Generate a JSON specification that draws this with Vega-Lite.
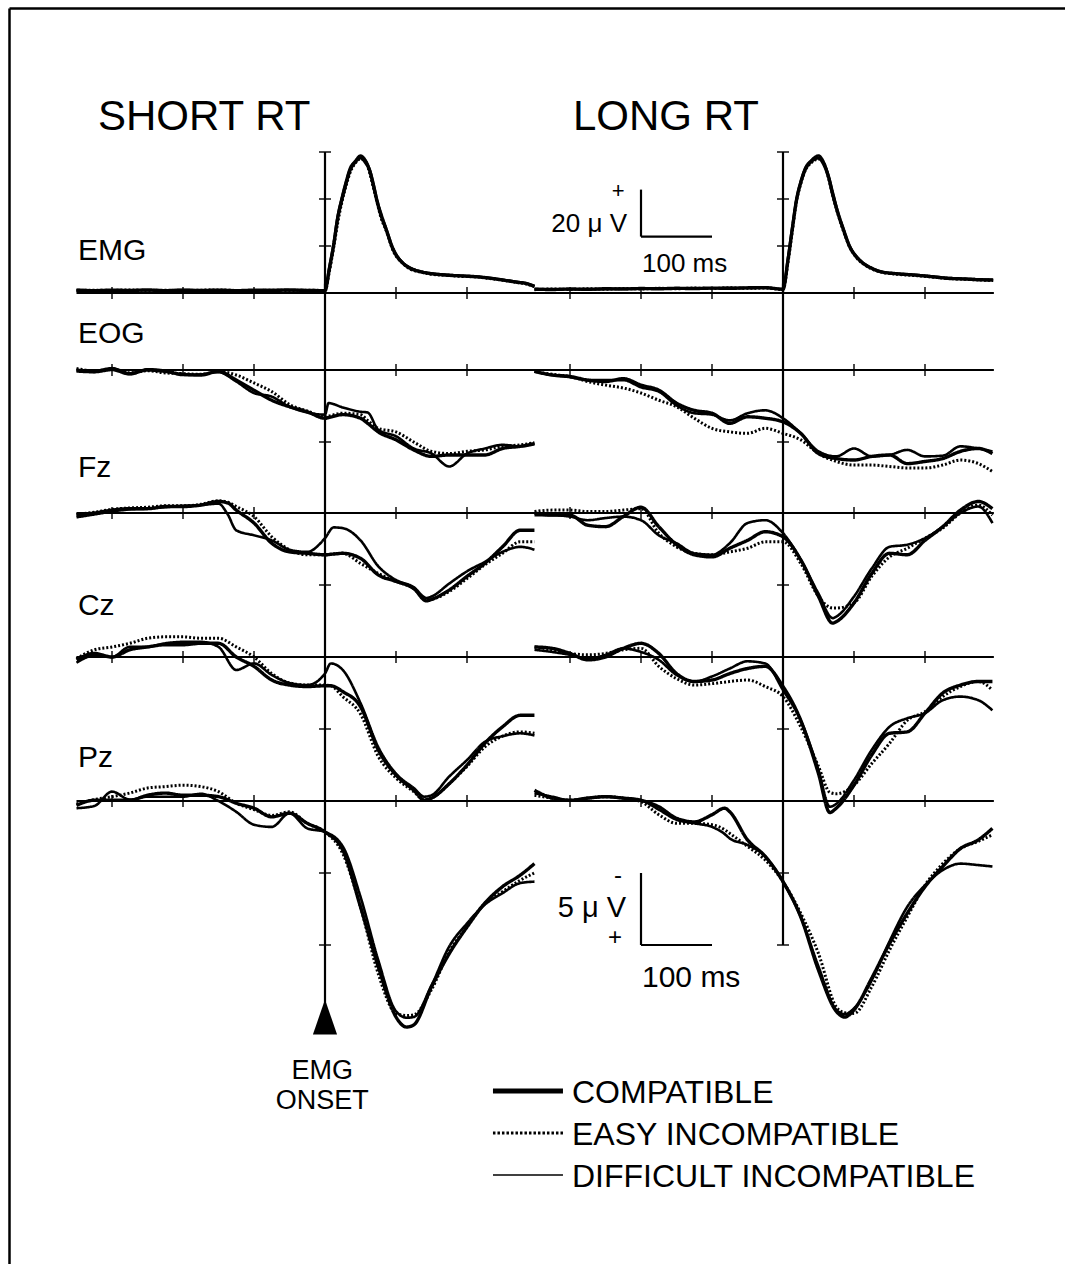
{
  "$schema": "https://vega.github.io/schema/vega-lite/v6.json",
  "autosize": {"type": "fit", "contains": "padding"},
  "width": 1065,
  "height": 1264,
  "padding": {"left": 9, "top": 8, "right": 0, "bottom": 0},
  "background": "white",
  "config": {
    "view": {"stroke": null},
    "text": {"font": "Liberation Sans", "color": "black"},
    "tick": {"color": "black"},
    "rule": {"color": "black"}
  },
  "datasets": {
    "ticks": [{"t": -300}, {"t": -200}, {"t": -100}, {"t": 100}, {"t": 200}],
    "S_EMG": [
      {"t": -350, "C": 1.2, "E": 1.0, "D": 1.3}, {"t": -325, "C": 1.0, "E": 1.2, "D": 1.1},
      {"t": -300, "C": 1.2, "E": 1.1, "D": 1.0}, {"t": -275, "C": 1.1, "E": 1.3, "D": 1.2},
      {"t": -250, "C": 1.3, "E": 1.1, "D": 1.2}, {"t": -225, "C": 1.0, "E": 1.2, "D": 1.1},
      {"t": -200, "C": 1.2, "E": 1.0, "D": 1.3}, {"t": -175, "C": 1.1, "E": 1.2, "D": 1.0},
      {"t": -150, "C": 1.2, "E": 1.3, "D": 1.1}, {"t": -125, "C": 1.0, "E": 1.1, "D": 1.2},
      {"t": -100, "C": 1.2, "E": 1.0, "D": 1.1}, {"t": -75, "C": 1.1, "E": 1.2, "D": 1.3},
      {"t": -50, "C": 1.3, "E": 1.1, "D": 1.2}, {"t": -25, "C": 1.1, "E": 1.2, "D": 1.0},
      {"t": 0, "C": 1.0, "E": 1.1, "D": 1.2}, {"t": 6, "C": 10, "E": 9, "D": 11},
      {"t": 12, "C": 20, "E": 19, "D": 21}, {"t": 18, "C": 32, "E": 30, "D": 33},
      {"t": 24, "C": 40, "E": 39, "D": 41}, {"t": 30, "C": 47, "E": 46, "D": 48},
      {"t": 35, "C": 52, "E": 51, "D": 53}, {"t": 42, "C": 55.5, "E": 55, "D": 56},
      {"t": 50, "C": 57.5, "E": 57, "D": 58.5}, {"t": 56, "C": 56, "E": 56.5, "D": 57},
      {"t": 63, "C": 52, "E": 51, "D": 52.5}, {"t": 68, "C": 46, "E": 45, "D": 47},
      {"t": 73, "C": 39.5, "E": 39, "D": 40}, {"t": 80, "C": 32, "E": 31, "D": 33},
      {"t": 85, "C": 28, "E": 27.5, "D": 28.5}, {"t": 96, "C": 18.5, "E": 18, "D": 19},
      {"t": 110, "C": 12.6, "E": 12.5, "D": 12.8}, {"t": 120, "C": 10.5, "E": 10.2, "D": 10.8},
      {"t": 134, "C": 9.1, "E": 9.0, "D": 9.3}, {"t": 150, "C": 8.2, "E": 8.0, "D": 8.4},
      {"t": 167, "C": 7.7, "E": 7.6, "D": 7.9}, {"t": 190, "C": 7.3, "E": 7.1, "D": 7.4},
      {"t": 214, "C": 6.9, "E": 6.8, "D": 7.0}, {"t": 235, "C": 6.2, "E": 6.0, "D": 6.3},
      {"t": 251, "C": 5.5, "E": 5.4, "D": 5.6}, {"t": 270, "C": 4.6, "E": 4.5, "D": 4.8},
      {"t": 284, "C": 4.0, "E": 3.8, "D": 4.1}, {"t": 295, "C": 2.8, "E": 2.7, "D": 3.0}
    ],
    "L_EMG": [
      {"t": -350, "C": 1.6, "E": 1.4, "D": 1.7}, {"t": -325, "C": 1.5, "E": 1.7, "D": 1.6},
      {"t": -300, "C": 1.7, "E": 1.5, "D": 1.6}, {"t": -275, "C": 1.6, "E": 1.8, "D": 1.5},
      {"t": -250, "C": 1.8, "E": 1.6, "D": 1.7}, {"t": -225, "C": 1.7, "E": 1.9, "D": 1.8},
      {"t": -200, "C": 1.9, "E": 1.7, "D": 1.8}, {"t": -175, "C": 1.8, "E": 2.0, "D": 1.9},
      {"t": -150, "C": 2.0, "E": 1.8, "D": 1.9}, {"t": -125, "C": 1.9, "E": 2.1, "D": 2.0},
      {"t": -100, "C": 2.1, "E": 1.9, "D": 2.0}, {"t": -75, "C": 2.0, "E": 2.2, "D": 2.1},
      {"t": -50, "C": 2.2, "E": 2.0, "D": 2.1}, {"t": -25, "C": 2.3, "E": 2.1, "D": 2.2},
      {"t": 0, "C": 1.6, "E": 1.5, "D": 1.7}, {"t": 7, "C": 14, "E": 13, "D": 15},
      {"t": 13, "C": 27, "E": 26, "D": 28}, {"t": 19, "C": 39.5, "E": 39, "D": 40},
      {"t": 25, "C": 47, "E": 46.5, "D": 47.5}, {"t": 31, "C": 52.3, "E": 52, "D": 53},
      {"t": 40, "C": 56, "E": 55.5, "D": 56.5}, {"t": 50, "C": 57.5, "E": 57, "D": 58.5},
      {"t": 57, "C": 55, "E": 55.5, "D": 56}, {"t": 64, "C": 49.5, "E": 49, "D": 50},
      {"t": 70, "C": 42, "E": 41.5, "D": 43}, {"t": 76, "C": 35.3, "E": 35, "D": 36},
      {"t": 85, "C": 27, "E": 26.5, "D": 27.5}, {"t": 94, "C": 19.7, "E": 19.5, "D": 20},
      {"t": 103, "C": 15.5, "E": 15.2, "D": 15.8}, {"t": 113, "C": 12.6, "E": 12.4, "D": 12.8},
      {"t": 125, "C": 10.5, "E": 10.3, "D": 10.7}, {"t": 137, "C": 9.1, "E": 9.0, "D": 9.2},
      {"t": 160, "C": 8.2, "E": 8.0, "D": 8.3}, {"t": 183, "C": 7.7, "E": 7.5, "D": 7.8},
      {"t": 207, "C": 7.0, "E": 6.9, "D": 7.2}, {"t": 230, "C": 6.3, "E": 6.2, "D": 6.5},
      {"t": 260, "C": 5.9, "E": 5.8, "D": 6.0}, {"t": 280, "C": 5.6, "E": 5.5, "D": 5.8},
      {"t": 296, "C": 5.5, "E": 5.3, "D": 5.6}
    ],
    "S_EOG": [
      {"t": -350, "C": 0, "E": -0.1, "D": 0.1}, {"t": -325, "C": 0.1, "E": 0.05, "D": 0.15},
      {"t": -300, "C": -0.1, "E": -0.05, "D": 0}, {"t": -275, "C": 0.25, "E": 0.2, "D": 0.3},
      {"t": -250, "C": 0, "E": 0.05, "D": -0.05}, {"t": -225, "C": 0.1, "E": 0.2, "D": 0.05},
      {"t": -200, "C": 0.3, "E": 0.25, "D": 0.35}, {"t": -175, "C": 0.35, "E": 0.3, "D": 0.3},
      {"t": -150, "C": 0.1, "E": 0.1, "D": 0.15}, {"t": -125, "C": 0.7, "E": 0.35, "D": 0.8},
      {"t": -100, "C": 1.4, "E": 0.9, "D": 1.6}, {"t": -75, "C": 2.1, "E": 1.5, "D": 1.85},
      {"t": -50, "C": 2.55, "E": 2.4, "D": 2.55}, {"t": -25, "C": 2.9, "E": 2.85, "D": 2.95},
      {"t": 0, "C": 3.35, "E": 3.25, "D": 3.1}, {"t": 5, "C": 3.3, "E": 3.2, "D": 2.3},
      {"t": 25, "C": 3.1, "E": 3.0, "D": 2.6}, {"t": 50, "C": 3.35, "E": 3.1, "D": 2.9},
      {"t": 60, "C": 3.7, "E": 3.5, "D": 2.95}, {"t": 75, "C": 4.3, "E": 4.05, "D": 4.15},
      {"t": 100, "C": 4.85, "E": 4.3, "D": 4.6}, {"t": 125, "C": 5.55, "E": 5.0, "D": 5.45},
      {"t": 150, "C": 6.0, "E": 5.65, "D": 5.8}, {"t": 175, "C": 5.9, "E": 5.8, "D": 6.7},
      {"t": 200, "C": 5.9, "E": 5.65, "D": 5.8}, {"t": 225, "C": 5.9, "E": 5.55, "D": 5.45},
      {"t": 250, "C": 5.45, "E": 5.3, "D": 5.2}, {"t": 275, "C": 5.3, "E": 5.2, "D": 5.3},
      {"t": 295, "C": 5.1, "E": 5.05, "D": 5.15}
    ],
    "L_EOG": [
      {"t": -350, "C": 0.1, "E": 0.1, "D": 0.1}, {"t": -325, "C": 0.35, "E": 0.3, "D": 0.35},
      {"t": -300, "C": 0.45, "E": 0.45, "D": 0.5}, {"t": -275, "C": 0.7, "E": 0.8, "D": 0.7},
      {"t": -250, "C": 0.8, "E": 1.05, "D": 0.7}, {"t": -225, "C": 0.6, "E": 1.25, "D": 0.7},
      {"t": -200, "C": 1.05, "E": 1.6, "D": 1.2}, {"t": -175, "C": 1.4, "E": 2.1, "D": 1.5},
      {"t": -150, "C": 2.3, "E": 2.55, "D": 2.45}, {"t": -125, "C": 2.8, "E": 3.35, "D": 3.0},
      {"t": -100, "C": 3.0, "E": 4.05, "D": 3.1}, {"t": -75, "C": 3.7, "E": 4.3, "D": 3.5},
      {"t": -50, "C": 3.25, "E": 4.4, "D": 3.0}, {"t": -25, "C": 3.35, "E": 4.05, "D": 2.8},
      {"t": 0, "C": 3.6, "E": 4.4, "D": 3.35}, {"t": 25, "C": 4.4, "E": 4.85, "D": 4.4},
      {"t": 50, "C": 5.8, "E": 5.8, "D": 5.65}, {"t": 75, "C": 6.15, "E": 6.35, "D": 6.0},
      {"t": 100, "C": 6.25, "E": 6.6, "D": 5.45}, {"t": 125, "C": 6.0, "E": 6.6, "D": 6.0},
      {"t": 150, "C": 5.9, "E": 6.7, "D": 5.9}, {"t": 175, "C": 6.5, "E": 6.8, "D": 5.55},
      {"t": 200, "C": 6.35, "E": 6.8, "D": 6.0}, {"t": 225, "C": 6.15, "E": 6.6, "D": 5.95},
      {"t": 250, "C": 5.65, "E": 6.25, "D": 5.3}, {"t": 275, "C": 5.45, "E": 6.5, "D": 5.45},
      {"t": 295, "C": 5.8, "E": 7.05, "D": 5.65}
    ],
    "S_Fz": [
      {"t": -350, "C": 0.15, "E": 0.1, "D": 0.3}, {"t": -325, "C": 0, "E": -0.05, "D": 0.1},
      {"t": -300, "C": -0.2, "E": -0.25, "D": -0.1}, {"t": -275, "C": -0.3, "E": -0.35, "D": -0.25},
      {"t": -250, "C": -0.3, "E": -0.4, "D": -0.3}, {"t": -225, "C": -0.45, "E": -0.5, "D": -0.4},
      {"t": -200, "C": -0.45, "E": -0.5, "D": -0.5}, {"t": -175, "C": -0.55, "E": -0.6, "D": -0.55},
      {"t": -150, "C": -0.8, "E": -0.85, "D": -0.65}, {"t": -137, "C": -0.7, "E": -0.75, "D": 0.1},
      {"t": -125, "C": -0.2, "E": -0.45, "D": 1.2}, {"t": -100, "C": 0.7, "E": 0.25, "D": 1.55},
      {"t": -75, "C": 2.1, "E": 1.65, "D": 1.9}, {"t": -50, "C": 2.7, "E": 2.55, "D": 2.55},
      {"t": -25, "C": 2.8, "E": 2.9, "D": 2.7}, {"t": 0, "C": 2.9, "E": 2.9, "D": 1.75},
      {"t": 12, "C": 2.85, "E": 2.85, "D": 1.0}, {"t": 25, "C": 2.8, "E": 2.8, "D": 1.05},
      {"t": 50, "C": 3.15, "E": 3.5, "D": 1.9}, {"t": 75, "C": 4.3, "E": 4.2, "D": 3.7},
      {"t": 100, "C": 4.75, "E": 4.75, "D": 4.65}, {"t": 125, "C": 5.25, "E": 5.25, "D": 5.15},
      {"t": 143, "C": 6.1, "E": 6.05, "D": 5.9}, {"t": 150, "C": 6.0, "E": 6.0, "D": 5.8},
      {"t": 175, "C": 5.35, "E": 5.45, "D": 4.9}, {"t": 200, "C": 4.4, "E": 4.55, "D": 4.05},
      {"t": 225, "C": 3.5, "E": 3.6, "D": 3.4}, {"t": 250, "C": 2.35, "E": 2.8, "D": 2.7},
      {"t": 275, "C": 1.2, "E": 2.0, "D": 2.35}, {"t": 295, "C": 1.2, "E": 2.0, "D": 2.55}
    ],
    "L_Fz": [
      {"t": -350, "C": 0, "E": -0.1, "D": 0.15}, {"t": -325, "C": 0.15, "E": -0.2, "D": 0.15},
      {"t": -300, "C": 0.15, "E": -0.2, "D": 0.25}, {"t": -275, "C": 0.85, "E": -0.1, "D": 0.5},
      {"t": -250, "C": 0.95, "E": -0.1, "D": 0.35}, {"t": -225, "C": 0.25, "E": -0.2, "D": 0.25},
      {"t": -200, "C": -0.4, "E": -0.3, "D": 0.5}, {"t": -175, "C": 0.95, "E": 1.4, "D": 1.55},
      {"t": -150, "C": 2.2, "E": 2.35, "D": 2.1}, {"t": -125, "C": 2.9, "E": 2.8, "D": 2.8},
      {"t": -100, "C": 3.05, "E": 2.9, "D": 2.9}, {"t": -75, "C": 2.45, "E": 2.7, "D": 2.1},
      {"t": -50, "C": 1.9, "E": 2.45, "D": 0.7}, {"t": -25, "C": 1.3, "E": 2.0, "D": 0.5},
      {"t": 0, "C": 1.65, "E": 2.0, "D": 1.4}, {"t": 25, "C": 3.25, "E": 3.5, "D": 3.25},
      {"t": 50, "C": 5.8, "E": 5.8, "D": 5.6}, {"t": 70, "C": 7.65, "E": 6.6, "D": 7.3},
      {"t": 75, "C": 7.55, "E": 6.6, "D": 7.2}, {"t": 100, "C": 6.25, "E": 6.25, "D": 5.8},
      {"t": 125, "C": 4.2, "E": 4.4, "D": 3.85}, {"t": 150, "C": 2.8, "E": 3.05, "D": 2.35},
      {"t": 175, "C": 2.9, "E": 2.45, "D": 2.2}, {"t": 200, "C": 1.9, "E": 1.75, "D": 1.75},
      {"t": 225, "C": 0.95, "E": 1.05, "D": 0.95}, {"t": 250, "C": -0.2, "E": 0, "D": 0},
      {"t": 275, "C": -0.8, "E": -0.55, "D": -0.45}, {"t": 295, "C": -0.3, "E": 0.15, "D": 0.7}
    ],
    "S_Cz": [
      {"t": -350, "C": 0.2, "E": 0.1, "D": 0.4}, {"t": -325, "C": -0.25, "E": -0.5, "D": -0.1},
      {"t": -300, "C": 0, "E": -0.7, "D": 0}, {"t": -275, "C": -0.5, "E": -0.95, "D": -0.7},
      {"t": -250, "C": -0.7, "E": -1.3, "D": -0.7}, {"t": -225, "C": -0.85, "E": -1.4, "D": -0.95},
      {"t": -200, "C": -0.85, "E": -1.4, "D": -1.05}, {"t": -175, "C": -0.95, "E": -1.3, "D": -1.05},
      {"t": -150, "C": -0.95, "E": -1.3, "D": -0.7}, {"t": -125, "C": 0, "E": -0.7, "D": 0.9},
      {"t": -100, "C": 0.65, "E": 0, "D": 0.45}, {"t": -75, "C": 1.6, "E": 1.15, "D": 1.25},
      {"t": -50, "C": 1.95, "E": 1.8, "D": 1.8}, {"t": -25, "C": 2.05, "E": 1.95, "D": 1.95},
      {"t": 0, "C": 2.0, "E": 1.95, "D": 1.15}, {"t": 8, "C": 2.0, "E": 2.0, "D": 0.45},
      {"t": 25, "C": 2.4, "E": 2.75, "D": 0.9}, {"t": 50, "C": 3.45, "E": 3.95, "D": 3.2},
      {"t": 75, "C": 6.45, "E": 6.9, "D": 6.25}, {"t": 100, "C": 8.2, "E": 8.4, "D": 8.1},
      {"t": 125, "C": 9.25, "E": 9.35, "D": 9.1}, {"t": 140, "C": 9.95, "E": 9.9, "D": 9.7},
      {"t": 150, "C": 9.8, "E": 9.8, "D": 9.6}, {"t": 175, "C": 8.8, "E": 8.8, "D": 8.3},
      {"t": 200, "C": 7.5, "E": 7.6, "D": 7.15}, {"t": 225, "C": 6.0, "E": 6.25, "D": 5.9},
      {"t": 250, "C": 4.85, "E": 5.5, "D": 5.5}, {"t": 275, "C": 4.05, "E": 5.2, "D": 5.3},
      {"t": 295, "C": 4.05, "E": 5.3, "D": 5.45}
    ],
    "L_Cz": [
      {"t": -350, "C": -0.7, "E": -0.7, "D": -0.5}, {"t": -325, "C": -0.6, "E": -0.5, "D": -0.35},
      {"t": -300, "C": -0.25, "E": -0.25, "D": -0.15}, {"t": -275, "C": 0.2, "E": -0.15, "D": 0.1},
      {"t": -250, "C": 0, "E": -0.25, "D": -0.15}, {"t": -225, "C": -0.6, "E": -0.5, "D": -0.6},
      {"t": -200, "C": -0.95, "E": -0.6, "D": -0.35}, {"t": -175, "C": -0.25, "E": 0.65, "D": 0.2},
      {"t": -150, "C": 1.15, "E": 1.5, "D": 1.25}, {"t": -125, "C": 1.7, "E": 1.95, "D": 1.7},
      {"t": -100, "C": 1.6, "E": 1.85, "D": 1.35}, {"t": -75, "C": 1.15, "E": 1.7, "D": 0.8},
      {"t": -50, "C": 0.8, "E": 1.6, "D": 0.3}, {"t": -25, "C": 0.65, "E": 2.05, "D": 0.45},
      {"t": 0, "C": 2.05, "E": 2.75, "D": 2.3}, {"t": 25, "C": 4.4, "E": 4.85, "D": 4.4},
      {"t": 50, "C": 8.1, "E": 7.6, "D": 7.85}, {"t": 66, "C": 10.8, "E": 9.4, "D": 10.4},
      {"t": 75, "C": 10.5, "E": 9.5, "D": 10.2}, {"t": 100, "C": 8.9, "E": 8.9, "D": 8.55},
      {"t": 125, "C": 6.8, "E": 7.4, "D": 6.45}, {"t": 150, "C": 5.3, "E": 6.0, "D": 4.85},
      {"t": 175, "C": 5.2, "E": 4.4, "D": 4.25}, {"t": 200, "C": 3.9, "E": 3.8, "D": 3.9},
      {"t": 225, "C": 2.5, "E": 2.75, "D": 3.0}, {"t": 250, "C": 1.95, "E": 2.05, "D": 2.75},
      {"t": 275, "C": 1.7, "E": 1.7, "D": 3.0}, {"t": 295, "C": 1.7, "E": 2.3, "D": 3.7}
    ],
    "S_Pz": [
      {"t": -350, "C": 0.3, "E": 0.2, "D": 0.5}, {"t": -325, "C": -0.05, "E": -0.1, "D": 0.35},
      {"t": -300, "C": -0.05, "E": -0.3, "D": -0.65}, {"t": -275, "C": -0.05, "E": -0.55, "D": -0.1},
      {"t": -250, "C": -0.4, "E": -0.9, "D": -0.3}, {"t": -225, "C": -0.55, "E": -1.0, "D": -0.3},
      {"t": -200, "C": -0.4, "E": -1.1, "D": -0.3}, {"t": -175, "C": -0.4, "E": -1.0, "D": -0.5},
      {"t": -150, "C": -0.3, "E": -0.65, "D": 0}, {"t": -125, "C": 0.15, "E": 0.15, "D": 0.75},
      {"t": -100, "C": 0.5, "E": 0.6, "D": 1.65}, {"t": -75, "C": 1.1, "E": 1.0, "D": 1.8},
      {"t": -50, "C": 0.85, "E": 0.75, "D": 0.85}, {"t": -25, "C": 1.55, "E": 1.55, "D": 1.9},
      {"t": 0, "C": 2.15, "E": 2.15, "D": 2.15}, {"t": 25, "C": 3.4, "E": 3.65, "D": 3.15},
      {"t": 50, "C": 7.35, "E": 7.35, "D": 6.65}, {"t": 75, "C": 11.5, "E": 12.0, "D": 11.05},
      {"t": 100, "C": 15.0, "E": 14.75, "D": 14.6}, {"t": 115, "C": 15.7, "E": 14.9, "D": 15.05},
      {"t": 125, "C": 15.55, "E": 14.85, "D": 15.0}, {"t": 150, "C": 12.9, "E": 13.1, "D": 12.8},
      {"t": 175, "C": 10.6, "E": 10.45, "D": 10.1}, {"t": 200, "C": 8.75, "E": 8.75, "D": 8.5},
      {"t": 225, "C": 7.1, "E": 7.1, "D": 7.2}, {"t": 250, "C": 5.95, "E": 6.3, "D": 6.4},
      {"t": 275, "C": 5.15, "E": 5.5, "D": 5.7}, {"t": 295, "C": 4.35, "E": 5.0, "D": 5.6}
    ],
    "L_Pz": [
      {"t": -350, "C": -0.75, "E": -0.4, "D": -0.55}, {"t": -325, "C": -0.2, "E": -0.2, "D": -0.3},
      {"t": -300, "C": -0.05, "E": -0.05, "D": -0.05}, {"t": -275, "C": -0.2, "E": -0.2, "D": -0.2},
      {"t": -250, "C": -0.3, "E": -0.3, "D": -0.3}, {"t": -225, "C": -0.2, "E": -0.2, "D": -0.2},
      {"t": -200, "C": -0.05, "E": 0.05, "D": -0.05}, {"t": -175, "C": 0.4, "E": 0.95, "D": 0.6},
      {"t": -150, "C": 1.2, "E": 1.55, "D": 1.3}, {"t": -125, "C": 1.45, "E": 1.55, "D": 1.55},
      {"t": -100, "C": 0.95, "E": 1.65, "D": 1.8}, {"t": -82, "C": 0.5, "E": 2.0, "D": 2.3},
      {"t": -75, "C": 0.75, "E": 2.25, "D": 2.6}, {"t": -50, "C": 2.7, "E": 3.15, "D": 3.05},
      {"t": -25, "C": 3.85, "E": 4.1, "D": 3.85}, {"t": 0, "C": 5.6, "E": 5.6, "D": 5.6},
      {"t": 25, "C": 8.05, "E": 7.8, "D": 8.05}, {"t": 50, "C": 11.75, "E": 10.6, "D": 11.5},
      {"t": 75, "C": 14.6, "E": 14.3, "D": 14.5}, {"t": 87, "C": 15.0, "E": 14.7, "D": 14.8},
      {"t": 100, "C": 14.5, "E": 14.75, "D": 14.4}, {"t": 125, "C": 12.3, "E": 12.9, "D": 12.45},
      {"t": 150, "C": 9.9, "E": 10.35, "D": 9.75}, {"t": 175, "C": 7.8, "E": 8.05, "D": 7.35},
      {"t": 200, "C": 5.95, "E": 5.85, "D": 5.85}, {"t": 225, "C": 4.55, "E": 4.35, "D": 4.8},
      {"t": 250, "C": 3.3, "E": 3.3, "D": 4.35}, {"t": 275, "C": 2.7, "E": 2.8, "D": 4.45},
      {"t": 295, "C": 1.9, "E": 2.35, "D": 4.55}
    ]
  },
  "resolve": {"scale": {"x": "independent", "y": "independent"}, "axis": {"x": "independent", "y": "independent"}},
  "layer": [
    {
      "layer": [
        {
          "data": {"name": "S_EMG"},
          "transform": [{"fold": ["C", "E", "D"], "as": ["k", "v"]}],
          "mark": {"type": "line", "color": "black", "interpolate": "monotone"},
          "encoding": {
            "x": {"field": "t", "type": "quantitative", "scale": {"domain": [-445.07, 1042.25], "nice": false, "zero": false},
                  "axis": {"orient": "top", "domain": true, "domainColor": "black", "domainWidth": 2.5, "ticks": false, "labels": false, "grid": false, "title": null, "minExtent": 0, "maxExtent": 0}},
            "y": {"field": "v", "type": "quantitative", "scale": {"domain": [-413.19, 121.28], "nice": false, "zero": false},
                  "axis": {"orient": "left", "domain": true, "domainColor": "black", "domainWidth": 2.5, "ticks": false, "labels": false, "grid": false, "title": null, "minExtent": 0, "maxExtent": 0}},
            "strokeDash": {"field": "k", "type": "nominal", "scale": {"domain": ["C", "E", "D"], "range": [[1, 0], [2, 2], [1, 0]]}, "legend": null},
            "strokeWidth": {"field": "k", "type": "ordinal", "scale": {"domain": ["C", "E", "D"], "range": [3.4, 2.6, 1.3]}, "legend": null}
          }
        },
        {"data": {"values": [{}]}, "mark": {"type": "rule", "strokeWidth": 2.2}, "encoding": {"x": {"datum": -350}, "x2": {"datum": 296}, "y": {"datum": 0}}},
        {"data": {"name": "ticks"}, "mark": {"type": "tick", "orient": "vertical", "size": 12, "thickness": 2}, "encoding": {"x": {"field": "t", "type": "quantitative"}, "y": {"datum": 0}}},
        {"data": {"values": [{}]}, "mark": {"type": "rule", "strokeWidth": 2.2}, "encoding": {"x": {"datum": 0}, "y": {"datum": 0}, "y2": {"datum": 60}}},
        {"data": {"values": [{"v": 20}, {"v": 40}, {"v": 60}]}, "mark": {"type": "tick", "orient": "horizontal", "size": 12, "thickness": 2}, "encoding": {"x": {"datum": 0}, "y": {"field": "v", "type": "quantitative"}}},
        {"data": {"values": [{}]}, "mark": {"type": "text", "align": "left", "baseline": "alphabetic", "fontSize": 30}, "encoding": {"x": {"datum": -348}, "y": {"datum": 14.0}, "text": {"value": "EMG"}}},
        {"data": {"values": [{}]}, "mark": {"type": "text", "align": "left", "baseline": "alphabetic", "fontSize": 42}, "encoding": {"x": {"datum": -319.7}, "y": {"datum": 69.4}, "text": {"value": "SHORT RT"}}}
      ]
    },
    {
      "layer": [
        {
          "data": {"name": "S_EOG"},
          "transform": [{"fold": ["C", "E", "D"], "as": ["k", "v"]}],
          "mark": {"type": "line", "color": "black", "interpolate": "monotone"},
          "encoding": {
            "x": {"field": "t", "type": "quantitative", "scale": {"domain": [-445.07, 1042.25], "nice": false, "zero": false}, "axis": null},
            "y": {"field": "v", "type": "quantitative", "scale": {"domain": [-25.139, 62.083], "reverse": true, "nice": false, "zero": false}, "axis": null},
            "strokeDash": {"field": "k", "type": "nominal", "legend": null},
            "strokeWidth": {"field": "k", "type": "ordinal", "legend": null}
          }
        },
        {"data": {"values": [{}]}, "mark": {"type": "rule", "strokeWidth": 2.2}, "encoding": {"x": {"datum": -350}, "x2": {"datum": 296}, "y": {"datum": 0}}},
        {"data": {"name": "ticks"}, "mark": {"type": "tick", "orient": "vertical", "size": 12, "thickness": 2}, "encoding": {"x": {"field": "t", "type": "quantitative"}, "y": {"datum": 0}}},
        {"data": {"values": [{}]}, "mark": {"type": "rule", "strokeWidth": 2.2}, "encoding": {"x": {"datum": 0}, "y": {"datum": -6}, "y2": {"datum": 10}}},
        {"data": {"values": [{"v": 5}]}, "mark": {"type": "tick", "orient": "horizontal", "size": 12, "thickness": 2}, "encoding": {"x": {"datum": 0}, "y": {"field": "v", "type": "quantitative"}}},
        {"data": {"values": [{}]}, "mark": {"type": "text", "align": "left", "baseline": "alphabetic", "fontSize": 30}, "encoding": {"x": {"datum": -348}, "y": {"datum": -1.875}, "text": {"value": "EOG"}}}
      ]
    },
    {
      "layer": [
        {
          "data": {"name": "S_Fz"},
          "transform": [{"fold": ["C", "E", "D"], "as": ["k", "v"]}],
          "mark": {"type": "line", "color": "black", "interpolate": "monotone"},
          "encoding": {
            "x": {"field": "t", "type": "quantitative", "scale": {"domain": [-445.07, 1042.25], "nice": false, "zero": false}, "axis": null},
            "y": {"field": "v", "type": "quantitative", "scale": {"domain": [-35.069, 52.153], "reverse": true, "nice": false, "zero": false}, "axis": null},
            "strokeDash": {"field": "k", "type": "nominal", "legend": null},
            "strokeWidth": {"field": "k", "type": "ordinal", "legend": null}
          }
        },
        {"data": {"values": [{}]}, "mark": {"type": "rule", "strokeWidth": 2.2}, "encoding": {"x": {"datum": -350}, "x2": {"datum": 296}, "y": {"datum": 0}}},
        {"data": {"name": "ticks"}, "mark": {"type": "tick", "orient": "vertical", "size": 12, "thickness": 2}, "encoding": {"x": {"field": "t", "type": "quantitative"}, "y": {"datum": 0}}},
        {"data": {"values": [{}]}, "mark": {"type": "rule", "strokeWidth": 2.2}, "encoding": {"x": {"datum": 0}, "y": {"datum": 0}, "y2": {"datum": 10}}},
        {"data": {"values": [{"v": 5}]}, "mark": {"type": "tick", "orient": "horizontal", "size": 12, "thickness": 2}, "encoding": {"x": {"datum": 0}, "y": {"field": "v", "type": "quantitative"}}},
        {"data": {"values": [{}]}, "mark": {"type": "text", "align": "left", "baseline": "alphabetic", "fontSize": 30}, "encoding": {"x": {"datum": -348}, "y": {"datum": -2.5}, "text": {"value": "Fz"}}}
      ]
    },
    {
      "layer": [
        {
          "data": {"name": "S_Cz"},
          "transform": [{"fold": ["C", "E", "D"], "as": ["k", "v"]}],
          "mark": {"type": "line", "color": "black", "interpolate": "monotone"},
          "encoding": {
            "x": {"field": "t", "type": "quantitative", "scale": {"domain": [-445.07, 1042.25], "nice": false, "zero": false}, "axis": null},
            "y": {"field": "v", "type": "quantitative", "scale": {"domain": [-45.069, 42.153], "reverse": true, "nice": false, "zero": false}, "axis": null},
            "strokeDash": {"field": "k", "type": "nominal", "legend": null},
            "strokeWidth": {"field": "k", "type": "ordinal", "legend": null}
          }
        },
        {"data": {"values": [{}]}, "mark": {"type": "rule", "strokeWidth": 2.2}, "encoding": {"x": {"datum": -350}, "x2": {"datum": 296}, "y": {"datum": 0}}},
        {"data": {"name": "ticks"}, "mark": {"type": "tick", "orient": "vertical", "size": 12, "thickness": 2}, "encoding": {"x": {"field": "t", "type": "quantitative"}, "y": {"datum": 0}}},
        {"data": {"values": [{}]}, "mark": {"type": "rule", "strokeWidth": 2.2}, "encoding": {"x": {"datum": 0}, "y": {"datum": 0}, "y2": {"datum": 10}}},
        {"data": {"values": [{"v": 5}]}, "mark": {"type": "tick", "orient": "horizontal", "size": 12, "thickness": 2}, "encoding": {"x": {"datum": 0}, "y": {"field": "v", "type": "quantitative"}}},
        {"data": {"values": [{}]}, "mark": {"type": "text", "align": "left", "baseline": "alphabetic", "fontSize": 30}, "encoding": {"x": {"datum": -348}, "y": {"datum": -2.92}, "text": {"value": "Cz"}}}
      ]
    },
    {
      "layer": [
        {
          "data": {"name": "S_Pz"},
          "transform": [{"fold": ["C", "E", "D"], "as": ["k", "v"]}],
          "mark": {"type": "line", "color": "black", "interpolate": "monotone"},
          "encoding": {
            "x": {"field": "t", "type": "quantitative", "scale": {"domain": [-445.07, 1042.25], "nice": false, "zero": false}, "axis": null},
            "y": {"field": "v", "type": "quantitative", "scale": {"domain": [-55.069, 32.153], "reverse": true, "nice": false, "zero": false}, "axis": null},
            "strokeDash": {"field": "k", "type": "nominal", "legend": null},
            "strokeWidth": {"field": "k", "type": "ordinal", "legend": null}
          }
        },
        {"data": {"values": [{}]}, "mark": {"type": "rule", "strokeWidth": 2.2}, "encoding": {"x": {"datum": -350}, "x2": {"datum": 296}, "y": {"datum": 0}}},
        {"data": {"name": "ticks"}, "mark": {"type": "tick", "orient": "vertical", "size": 12, "thickness": 2}, "encoding": {"x": {"field": "t", "type": "quantitative"}, "y": {"datum": 0}}},
        {"data": {"values": [{}]}, "mark": {"type": "rule", "strokeWidth": 2.2}, "encoding": {"x": {"datum": 0}, "y": {"datum": 0}, "y2": {"datum": 15}}},
        {"data": {"values": [{"v": 5}, {"v": 10}]}, "mark": {"type": "tick", "orient": "horizontal", "size": 12, "thickness": 2}, "encoding": {"x": {"datum": 0}, "y": {"field": "v", "type": "quantitative"}}},
        {"data": {"values": [{}]}, "mark": {"type": "point", "shape": "M0,-1L0.69,1L-0.69,1Z", "size": 1225, "filled": true, "color": "black", "opacity": 1}, "encoding": {"x": {"datum": 0}, "y": {"datum": 15}}},
        {"data": {"values": [{}]}, "mark": {"type": "text", "align": "left", "baseline": "alphabetic", "fontSize": 30}, "encoding": {"x": {"datum": -348}, "y": {"datum": -2.36}, "text": {"value": "Pz"}}},
        {"data": {"values": [{}]}, "mark": {"type": "text", "align": "center", "baseline": "alphabetic", "fontSize": 27, "lineHeight": 30}, "encoding": {"x": {"datum": -4}, "y": {"datum": 19.3}, "text": {"value": ["EMG", "ONSET"]}}}
      ]
    },
    {
      "layer": [
        {
          "data": {"name": "L_EMG"},
          "transform": [{"fold": ["C", "E", "D"], "as": ["k", "v"]}],
          "mark": {"type": "line", "color": "black", "interpolate": "monotone"},
          "encoding": {
            "x": {"field": "t", "type": "quantitative", "scale": {"domain": [-1090.14, 397.18], "nice": false, "zero": false}, "axis": null},
            "y": {"field": "v", "type": "quantitative", "scale": {"domain": [-413.19, 121.28], "nice": false, "zero": false}, "axis": null},
            "strokeDash": {"field": "k", "type": "nominal", "legend": null},
            "strokeWidth": {"field": "k", "type": "ordinal", "legend": null}
          }
        },
        {"data": {"values": [{}]}, "mark": {"type": "rule", "strokeWidth": 2.2}, "encoding": {"x": {"datum": -350}, "x2": {"datum": 297}, "y": {"datum": 0}}},
        {"data": {"name": "ticks"}, "mark": {"type": "tick", "orient": "vertical", "size": 12, "thickness": 2}, "encoding": {"x": {"field": "t", "type": "quantitative"}, "y": {"datum": 0}}},
        {"data": {"values": [{}]}, "mark": {"type": "rule", "strokeWidth": 2.2}, "encoding": {"x": {"datum": 0}, "y": {"datum": 0}, "y2": {"datum": 60}}},
        {"data": {"values": [{"v": 20}, {"v": 40}, {"v": 60}]}, "mark": {"type": "tick", "orient": "horizontal", "size": 12, "thickness": 2}, "encoding": {"x": {"datum": 0}, "y": {"field": "v", "type": "quantitative"}}},
        {"data": {"values": [{}]}, "mark": {"type": "text", "align": "left", "baseline": "alphabetic", "fontSize": 42}, "encoding": {"x": {"datum": -295.8}, "y": {"datum": 69.4}, "text": {"value": "LONG RT"}}},
        {"data": {"values": [{}]}, "mark": {"type": "rule", "strokeWidth": 2.2}, "encoding": {"x": {"datum": -200}, "y": {"datum": 24}, "y2": {"datum": 44}}},
        {"data": {"values": [{}]}, "mark": {"type": "rule", "strokeWidth": 2.2}, "encoding": {"x": {"datum": -200}, "x2": {"datum": -100}, "y": {"datum": 24}}},
        {"data": {"values": [{}]}, "mark": {"type": "text", "align": "right", "baseline": "alphabetic", "fontSize": 26}, "encoding": {"x": {"datum": -219.7}, "y": {"datum": 26.1}, "text": {"value": "20 μ V"}}},
        {"data": {"values": [{}]}, "mark": {"type": "text", "align": "center", "baseline": "alphabetic", "fontSize": 22}, "encoding": {"x": {"datum": -232}, "y": {"datum": 40.4}, "text": {"value": "+"}}},
        {"data": {"values": [{}]}, "mark": {"type": "text", "align": "left", "baseline": "alphabetic", "fontSize": 26}, "encoding": {"x": {"datum": -198.6}, "y": {"datum": 8.9}, "text": {"value": "100 ms"}}}
      ]
    },
    {
      "layer": [
        {
          "data": {"name": "L_EOG"},
          "transform": [{"fold": ["C", "E", "D"], "as": ["k", "v"]}],
          "mark": {"type": "line", "color": "black", "interpolate": "monotone"},
          "encoding": {
            "x": {"field": "t", "type": "quantitative", "scale": {"domain": [-1090.14, 397.18], "nice": false, "zero": false}, "axis": null},
            "y": {"field": "v", "type": "quantitative", "scale": {"domain": [-25.139, 62.083], "reverse": true, "nice": false, "zero": false}, "axis": null},
            "strokeDash": {"field": "k", "type": "nominal", "legend": null},
            "strokeWidth": {"field": "k", "type": "ordinal", "legend": null}
          }
        },
        {"data": {"values": [{}]}, "mark": {"type": "rule", "strokeWidth": 2.2}, "encoding": {"x": {"datum": -350}, "x2": {"datum": 297}, "y": {"datum": 0}}},
        {"data": {"name": "ticks"}, "mark": {"type": "tick", "orient": "vertical", "size": 12, "thickness": 2}, "encoding": {"x": {"field": "t", "type": "quantitative"}, "y": {"datum": 0}}},
        {"data": {"values": [{}]}, "mark": {"type": "rule", "strokeWidth": 2.2}, "encoding": {"x": {"datum": 0}, "y": {"datum": -6}, "y2": {"datum": 10}}},
        {"data": {"values": [{"v": 5}]}, "mark": {"type": "tick", "orient": "horizontal", "size": 12, "thickness": 2}, "encoding": {"x": {"datum": 0}, "y": {"field": "v", "type": "quantitative"}}}
      ]
    },
    {
      "layer": [
        {
          "data": {"name": "L_Fz"},
          "transform": [{"fold": ["C", "E", "D"], "as": ["k", "v"]}],
          "mark": {"type": "line", "color": "black", "interpolate": "monotone"},
          "encoding": {
            "x": {"field": "t", "type": "quantitative", "scale": {"domain": [-1090.14, 397.18], "nice": false, "zero": false}, "axis": null},
            "y": {"field": "v", "type": "quantitative", "scale": {"domain": [-35.069, 52.153], "reverse": true, "nice": false, "zero": false}, "axis": null},
            "strokeDash": {"field": "k", "type": "nominal", "legend": null},
            "strokeWidth": {"field": "k", "type": "ordinal", "legend": null}
          }
        },
        {"data": {"values": [{}]}, "mark": {"type": "rule", "strokeWidth": 2.2}, "encoding": {"x": {"datum": -350}, "x2": {"datum": 297}, "y": {"datum": 0}}},
        {"data": {"name": "ticks"}, "mark": {"type": "tick", "orient": "vertical", "size": 12, "thickness": 2}, "encoding": {"x": {"field": "t", "type": "quantitative"}, "y": {"datum": 0}}},
        {"data": {"values": [{}]}, "mark": {"type": "rule", "strokeWidth": 2.2}, "encoding": {"x": {"datum": 0}, "y": {"datum": 0}, "y2": {"datum": 10}}},
        {"data": {"values": [{"v": 5}]}, "mark": {"type": "tick", "orient": "horizontal", "size": 12, "thickness": 2}, "encoding": {"x": {"datum": 0}, "y": {"field": "v", "type": "quantitative"}}}
      ]
    },
    {
      "layer": [
        {
          "data": {"name": "L_Cz"},
          "transform": [{"fold": ["C", "E", "D"], "as": ["k", "v"]}],
          "mark": {"type": "line", "color": "black", "interpolate": "monotone"},
          "encoding": {
            "x": {"field": "t", "type": "quantitative", "scale": {"domain": [-1090.14, 397.18], "nice": false, "zero": false}, "axis": null},
            "y": {"field": "v", "type": "quantitative", "scale": {"domain": [-45.069, 42.153], "reverse": true, "nice": false, "zero": false}, "axis": null},
            "strokeDash": {"field": "k", "type": "nominal", "legend": null},
            "strokeWidth": {"field": "k", "type": "ordinal", "legend": null}
          }
        },
        {"data": {"values": [{}]}, "mark": {"type": "rule", "strokeWidth": 2.2}, "encoding": {"x": {"datum": -350}, "x2": {"datum": 297}, "y": {"datum": 0}}},
        {"data": {"name": "ticks"}, "mark": {"type": "tick", "orient": "vertical", "size": 12, "thickness": 2}, "encoding": {"x": {"field": "t", "type": "quantitative"}, "y": {"datum": 0}}},
        {"data": {"values": [{}]}, "mark": {"type": "rule", "strokeWidth": 2.2}, "encoding": {"x": {"datum": 0}, "y": {"datum": 0}, "y2": {"datum": 10}}},
        {"data": {"values": [{"v": 5}]}, "mark": {"type": "tick", "orient": "horizontal", "size": 12, "thickness": 2}, "encoding": {"x": {"datum": 0}, "y": {"field": "v", "type": "quantitative"}}}
      ]
    },
    {
      "layer": [
        {
          "data": {"name": "L_Pz"},
          "transform": [{"fold": ["C", "E", "D"], "as": ["k", "v"]}],
          "mark": {"type": "line", "color": "black", "interpolate": "monotone"},
          "encoding": {
            "x": {"field": "t", "type": "quantitative", "scale": {"domain": [-1090.14, 397.18], "nice": false, "zero": false}, "axis": null},
            "y": {"field": "v", "type": "quantitative", "scale": {"domain": [-55.069, 32.153], "reverse": true, "nice": false, "zero": false}, "axis": null},
            "strokeDash": {"field": "k", "type": "nominal", "legend": null},
            "strokeWidth": {"field": "k", "type": "ordinal", "legend": null}
          }
        },
        {"data": {"values": [{}]}, "mark": {"type": "rule", "strokeWidth": 2.2}, "encoding": {"x": {"datum": -350}, "x2": {"datum": 297}, "y": {"datum": 0}}},
        {"data": {"name": "ticks"}, "mark": {"type": "tick", "orient": "vertical", "size": 12, "thickness": 2}, "encoding": {"x": {"field": "t", "type": "quantitative"}, "y": {"datum": 0}}},
        {"data": {"values": [{}]}, "mark": {"type": "rule", "strokeWidth": 2.2}, "encoding": {"x": {"datum": 0}, "y": {"datum": 0}, "y2": {"datum": 10}}},
        {"data": {"values": [{"v": 5}, {"v": 10}]}, "mark": {"type": "tick", "orient": "horizontal", "size": 12, "thickness": 2}, "encoding": {"x": {"datum": 0}, "y": {"field": "v", "type": "quantitative"}}},
        {"data": {"values": [{}]}, "mark": {"type": "rule", "strokeWidth": 2.2}, "encoding": {"x": {"datum": -200}, "y": {"datum": 5}, "y2": {"datum": 10}}},
        {"data": {"values": [{}]}, "mark": {"type": "rule", "strokeWidth": 2.2}, "encoding": {"x": {"datum": -200}, "x2": {"datum": -100}, "y": {"datum": 10}}},
        {"data": {"values": [{}]}, "mark": {"type": "text", "align": "right", "baseline": "alphabetic", "fontSize": 29}, "encoding": {"x": {"datum": -221}, "y": {"datum": 8.06}, "text": {"value": "5 μ V"}}},
        {"data": {"values": [{}]}, "mark": {"type": "text", "align": "center", "baseline": "alphabetic", "fontSize": 24}, "encoding": {"x": {"datum": -232.4}, "y": {"datum": 5.7}, "text": {"value": "-"}}},
        {"data": {"values": [{}]}, "mark": {"type": "text", "align": "center", "baseline": "alphabetic", "fontSize": 24}, "encoding": {"x": {"datum": -236.6}, "y": {"datum": 10.0}, "text": {"value": "+"}}},
        {"data": {"values": [{}]}, "mark": {"type": "text", "align": "left", "baseline": "alphabetic", "fontSize": 30}, "encoding": {"x": {"datum": -198.6}, "y": {"datum": 12.9}, "text": {"value": "100 ms"}}},
        {"data": {"values": [{}]}, "mark": {"type": "rule", "strokeWidth": 5}, "encoding": {"x": {"datum": -408.5}, "x2": {"datum": -309.9}, "y": {"datum": 20.14}}},
        {"data": {"values": [{}]}, "mark": {"type": "rule", "strokeWidth": 3, "strokeDash": [2.5, 2]}, "encoding": {"x": {"datum": -408.5}, "x2": {"datum": -309.9}, "y": {"datum": 23.06}}},
        {"data": {"values": [{}]}, "mark": {"type": "rule", "strokeWidth": 1.5}, "encoding": {"x": {"datum": -408.5}, "x2": {"datum": -309.9}, "y": {"datum": 25.97}}},
        {"data": {"values": [{}]}, "mark": {"type": "text", "align": "left", "baseline": "alphabetic", "fontSize": 32}, "encoding": {"x": {"datum": -297.2}, "y": {"datum": 20.95}, "text": {"value": "COMPATIBLE"}}},
        {"data": {"values": [{}]}, "mark": {"type": "text", "align": "left", "baseline": "alphabetic", "fontSize": 32}, "encoding": {"x": {"datum": -297.2}, "y": {"datum": 23.87}, "text": {"value": "EASY INCOMPATIBLE"}}},
        {"data": {"values": [{}]}, "mark": {"type": "text", "align": "left", "baseline": "alphabetic", "fontSize": 32}, "encoding": {"x": {"datum": -297.2}, "y": {"datum": 26.79}, "text": {"value": "DIFFICULT INCOMPATIBLE"}}}
      ]
    }
  ]
}
